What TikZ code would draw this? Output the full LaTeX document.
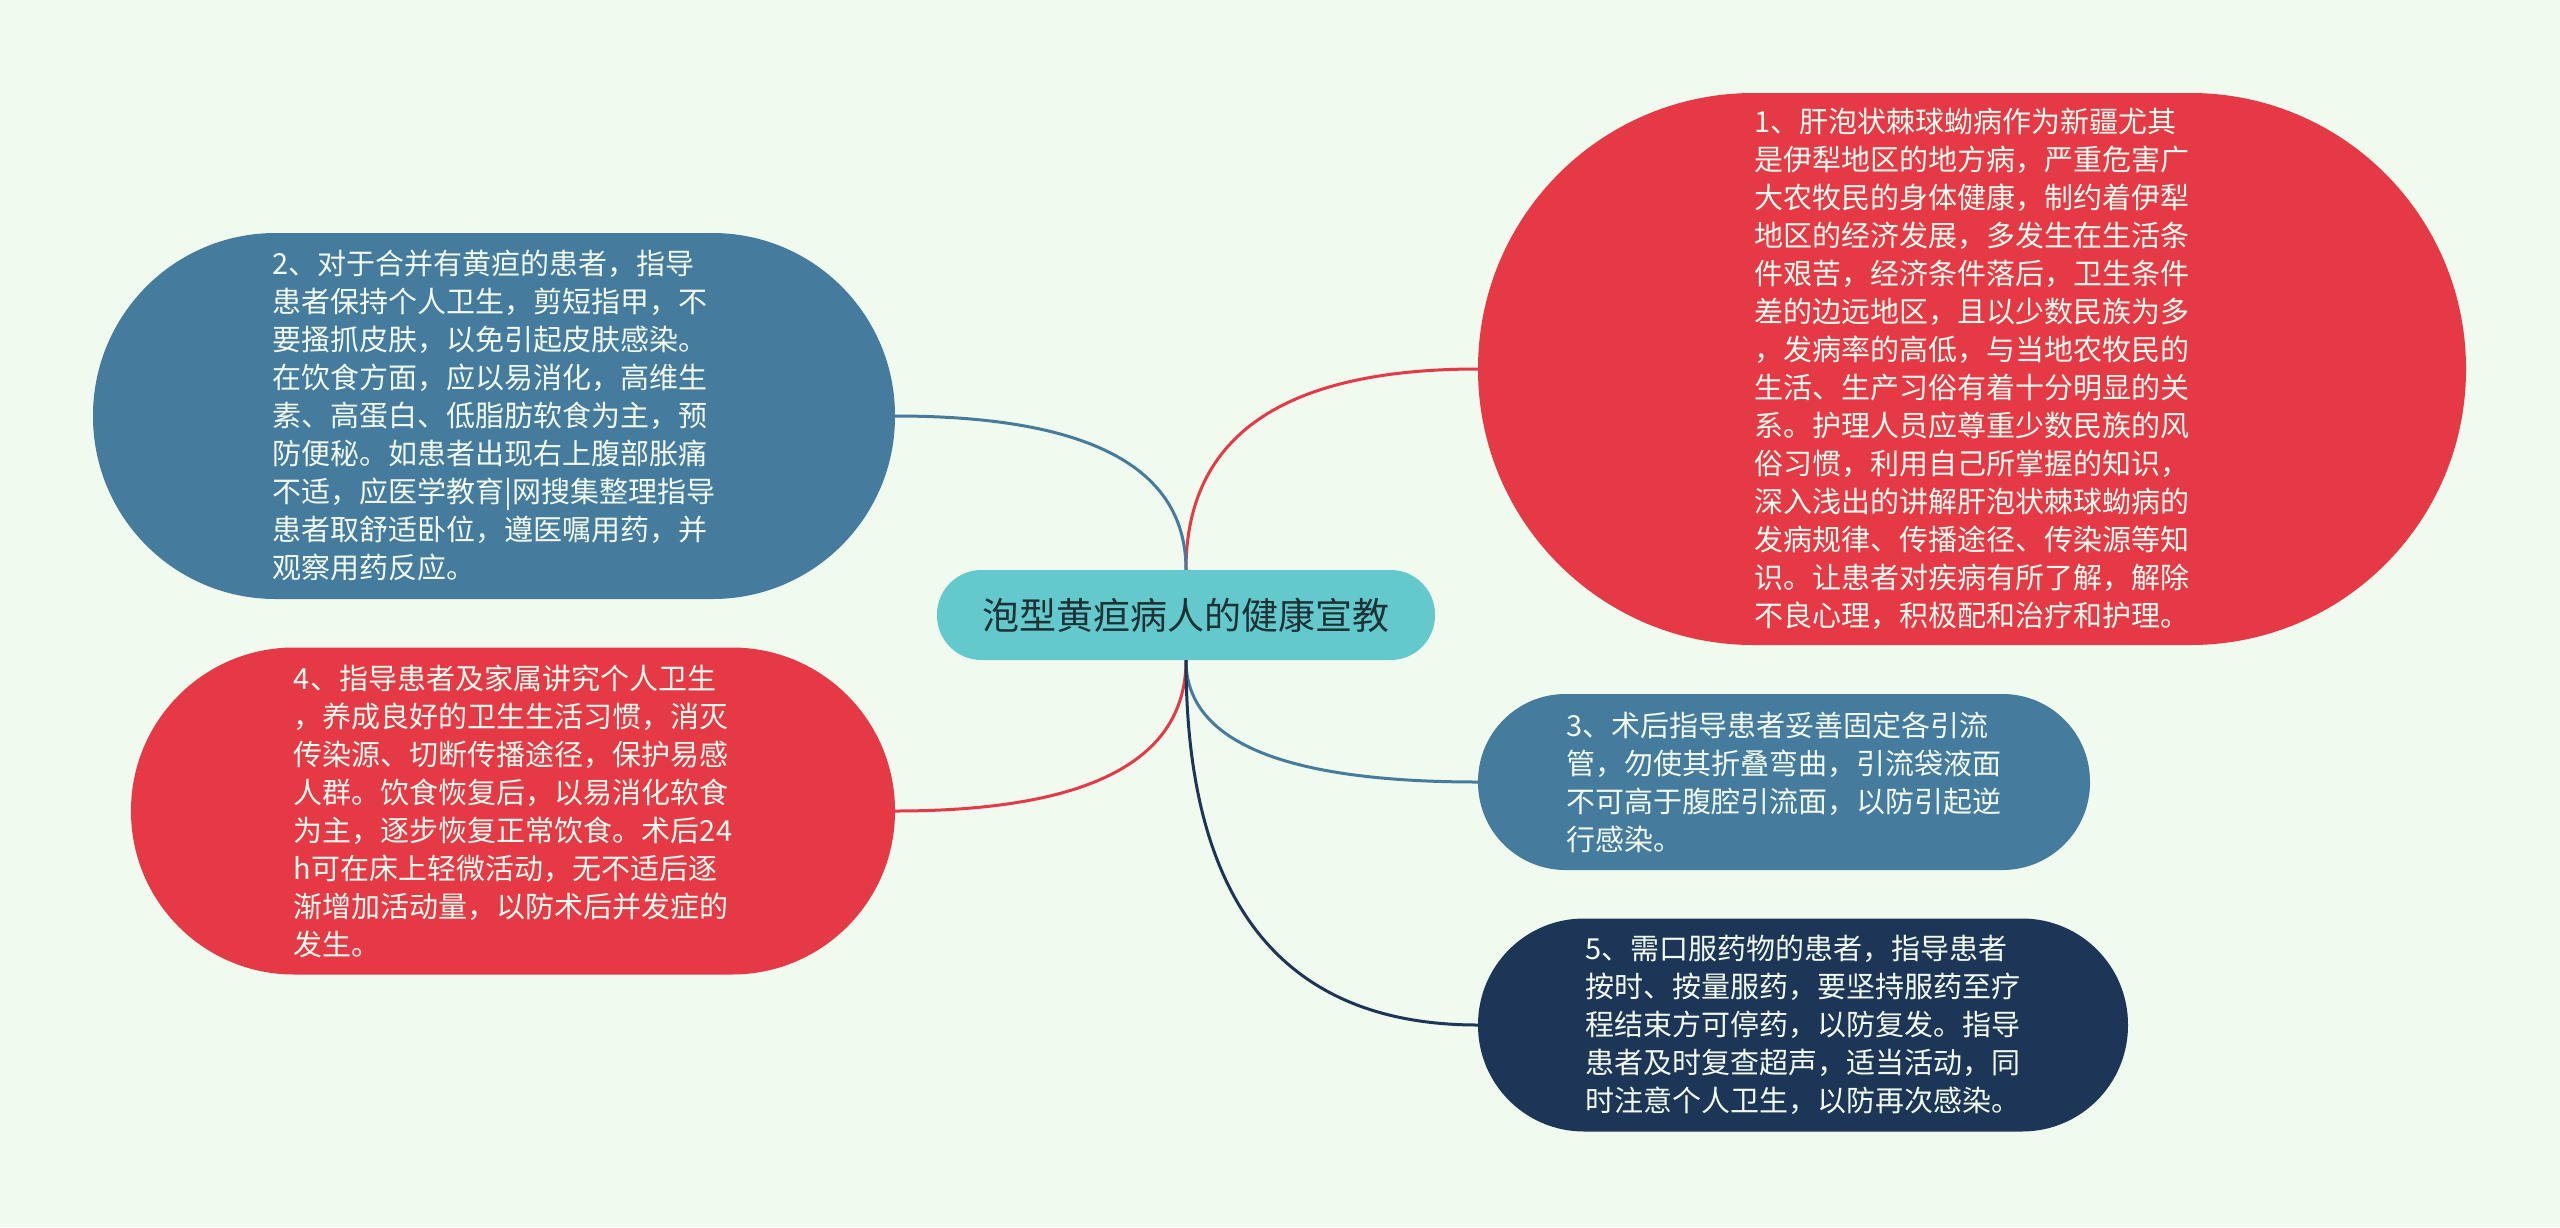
\documentclass[tikz,border=0pt]{standalone}
\usepackage{fontspec}
\setmainfont{Noto Sans CJK SC}
\usepackage{tikz}
\usetikzlibrary{positioning,calc}
\definecolor{bgmint}{HTML}{F1FAEE}
\definecolor{topicteal}{HTML}{63C9CC}
\definecolor{topicink}{HTML}{1E3236}
\definecolor{leafred}{HTML}{E63946}
\definecolor{leafblue}{HTML}{457B9D}
\definecolor{leafnavy}{HTML}{1D3557}
\tikzset{
  leaf/.style={draw=none,align=left,inner sep=0pt,text=bgmint,
            font=\fontsize{29}{38}\selectfont},
  topic/.style={leaf,fill=topicteal,text=topicink,minimum width=498pt,
            minimum height=90pt,rounded corners=44.5pt,
            font=\fontsize{37}{44}\selectfont},
  redleaf/.style={leaf,fill=leafred},
  blueleaf/.style={leaf,fill=leafblue},
  navyleaf/.style={leaf,fill=leafnavy},
  link/.style={line width=3pt},
}
% smooth branch from the topic to a leaf (quadratic bend at the corner)
\newcommand{\branch}[3]{%
  \draw[link,#1] (#2) .. controls ($(#2)!0.667!(#2 |- #3)$)
        and ($(#3)!0.667!(#2 |- #3)$) .. (#3);}

\begin{document}
\begin{tikzpicture}[x=1pt,y=-1pt]
  \fill[bgmint] (0,0) rectangle (2560,1227);
  \useasboundingbox (0,0) rectangle (2560,1227);
  \node[topic] (root) at (1186,615) {泡型黄疸病人的健康宣教};
  \node[redleaf,minimum width=988pt,minimum height=552pt,rounded corners=275.5pt]
        (risk) at (1972,369) {1、肝泡状棘球蚴病作为新疆尤其\\是伊犁地区的地方病，严重危害广\\大农牧民的身体健康，制约着伊犁\\地区的经济发展，多发生在生活条\\件艰苦，经济条件落后，卫生条件\\差的边远地区，且以少数民族为多\\，发病率的高低，与当地农牧民的\\生活、生产习俗有着十分明显的关\\系。护理人员应尊重少数民族的风\\俗习惯，利用自己所掌握的知识，\\深入浅出的讲解肝泡状棘球蚴病的\\发病规律、传播途径、传染源等知\\识。让患者对疾病有所了解，解除\\不良心理，积极配和治疗和护理。};
  \node[blueleaf,minimum width=802pt,minimum height=366pt,rounded corners=182.5pt]
        (jaundice) at (494,416) {2、对于合并有黄疸的患者，指导\\患者保持个人卫生，剪短指甲，不\\要搔抓皮肤，以免引起皮肤感染。\\在饮食方面，应以易消化，高维生\\素、高蛋白、低脂肪软食为主，预\\防便秘。如患者出现右上腹部胀痛\\不适，应医学教育|网搜集整理指导\\患者取舒适卧位，遵医嘱用药，并\\观察用药反应。};
  \node[redleaf,minimum width=764pt,minimum height=327pt,rounded corners=163pt]
        (hygiene) at (513,811) {4、指导患者及家属讲究个人卫生\\，养成良好的卫生生活习惯，消灭\\传染源、切断传播途径，保护易感\\人群。饮食恢复后，以易消化软食\\为主，逐步恢复正常饮食。术后24\\h可在床上轻微活动，无不适后逐\\渐增加活动量，以防术后并发症的\\发生。};
  \node[blueleaf,minimum width=612pt,minimum height=176pt,rounded corners=87.5pt]
        (drain) at (1784,782) {3、术后指导患者妥善固定各引流\\管，勿使其折叠弯曲，引流袋液面\\不可高于腹腔引流面，以防引起逆\\行感染。};
  \node[navyleaf,minimum width=650pt,minimum height=213pt,rounded corners=106pt]
        (drug) at (1803,1025) {5、需口服药物的患者，指导患者\\按时、按量服药，要坚持服药至疗\\程结束方可停药，以防复发。指导\\患者及时复查超声，适当活动，同\\时注意个人卫生，以防再次感染。};
  % branches above the topic
  \branch{leafred}{root.north}{risk.west}
  \branch{leafblue}{root.north}{jaundice.east}
  % branches below the topic
  \branch{leafred}{root.south}{hygiene.east}
  \branch{leafblue}{root.south}{drain.west}
  \branch{leafnavy}{root.south}{drug.west}
\end{tikzpicture}
\end{document}
